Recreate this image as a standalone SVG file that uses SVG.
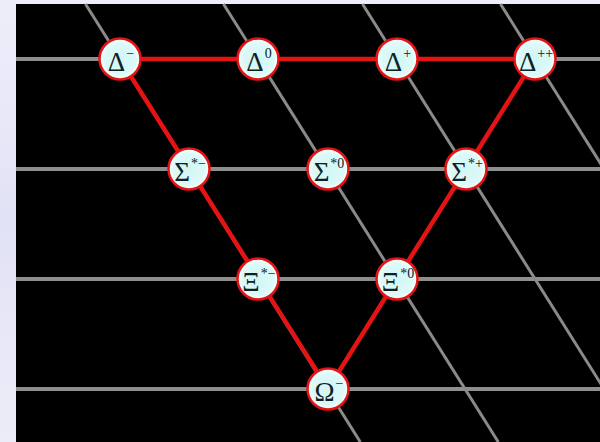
<svg xmlns="http://www.w3.org/2000/svg" width="600" height="442" viewBox="0 0 600 442">
  <defs>
    <linearGradient id="bg" x1="0" y1="0" x2="0" y2="1">
      <stop offset="0" stop-color="#eeeefa"/>
      <stop offset="0.5" stop-color="#e2e2f6"/>
      <stop offset="1" stop-color="#ececf8"/>
    </linearGradient>
    <radialGradient id="nodefill" cx="0.5" cy="0.5" r="0.5">
      <stop offset="0" stop-color="#d2f6f5"/>
      <stop offset="0.75" stop-color="#dcf9f8"/>
      <stop offset="1" stop-color="#f6ffff"/>
    </radialGradient>
    <style>
      .grid { stroke: #8e8e8e; stroke-width: 4; fill: none; }
      .diag { stroke: #8a8a8a; stroke-width: 3; fill: none; }
      .red { stroke: #e41414; stroke-width: 4.5; fill: none; stroke-linecap: round; }
      .node circle { fill: url(#nodefill); stroke: #e41414; stroke-width: 2.5; }
      .node text { font-family: "Liberation Serif", "Times New Roman", serif; font-size: 27px; fill: #0c2224; text-anchor: middle; }
      .sup { font-size: 14px; }
    </style>
  </defs>
  <rect x="0" y="0" width="600" height="442" fill="url(#bg)"/>
  <rect x="16" y="4" width="584" height="438" fill="#000000"/>

  <g id="connectors">
    <line class="grid" x1="16" y1="59" x2="600" y2="59"/>
    <line class="grid" x1="16" y1="169" x2="600" y2="169"/>
    <line class="grid" x1="16" y1="279" x2="600" y2="279"/>
    <line class="grid" x1="16" y1="389" x2="600" y2="389"/>
    <line class="diag" x1="85.5" y1="4" x2="360.3" y2="442"/>
    <line class="diag" x1="223.5" y1="4" x2="498.3" y2="442"/>
    <line class="diag" x1="362.5" y1="4" x2="637.3" y2="442"/>
    <line class="diag" x1="500.5" y1="4" x2="775.3" y2="442"/>
    <line class="red" x1="120" y1="59" x2="535" y2="59"/>
    <line class="red" x1="120" y1="59" x2="328" y2="389"/>
    <line class="red" x1="535" y1="59" x2="328" y2="389"/>
  </g>

  <g id="delta-minus" class="node"><circle cx="120" cy="59" r="20.5"/><text x="121" y="71">Δ<tspan class="sup" dy="-13" dx="1">−</tspan></text></g>
  <g id="delta-zero" class="node"><circle cx="258" cy="59" r="20.5"/><text x="259" y="71">Δ<tspan class="sup" dy="-13" dx="1">0</tspan></text></g>
  <g id="delta-plus" class="node"><circle cx="397" cy="59" r="20.5"/><text x="398" y="71">Δ<tspan class="sup" dy="-13" dx="1">+</tspan></text></g>
  <g id="delta-plusplus" class="node"><circle cx="535" cy="59" r="20.5"/><text x="536" y="71">Δ<tspan class="sup" dy="-13" dx="1">++</tspan></text></g>

  <g id="sigma-minus" class="node"><circle cx="189" cy="169" r="20.5"/><text x="190" y="181">Σ<tspan class="sup" dy="-13" dx="1">*−</tspan></text></g>
  <g id="sigma-zero" class="node"><circle cx="328" cy="169" r="20.5"/><text x="329" y="181">Σ<tspan class="sup" dy="-13" dx="1">*0</tspan></text></g>
  <g id="sigma-plus" class="node"><circle cx="466" cy="169" r="20.5"/><text x="467" y="181">Σ<tspan class="sup" dy="-13" dx="1">*+</tspan></text></g>

  <g id="xi-minus" class="node"><circle cx="258" cy="279" r="20.5"/><text x="259" y="291">Ξ<tspan class="sup" dy="-13" dx="1">*−</tspan></text></g>
  <g id="xi-zero" class="node"><circle cx="397" cy="279" r="20.5"/><text x="398" y="291">Ξ<tspan class="sup" dy="-13" dx="1">*0</tspan></text></g>

  <g id="omega-minus" class="node"><circle cx="328" cy="389" r="20.5"/><text x="329" y="401">Ω<tspan class="sup" dy="-13" dx="1">−</tspan></text></g>
</svg>
